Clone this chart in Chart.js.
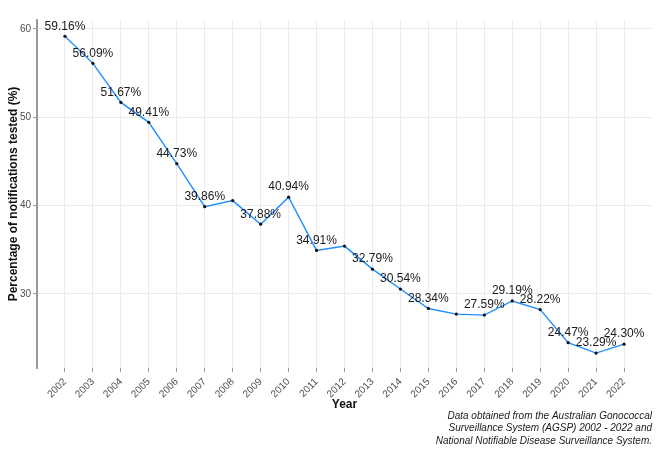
<!DOCTYPE html>
<html>
<head>
<meta charset="utf-8">
<script src="https://cdn.jsdelivr.net/npm/chart.js@4"></script>
<style>
  body { margin: 0; background: #fff; }
  #wrap { width: 661px; height: 450px; }
</style>
</head>
<body>
<div id="wrap"><canvas id="chartTested" width="661" height="450"></canvas></div>
<script>
const years = [2002, 2003, 2004, 2005, 2006, 2007, 2008, 2009, 2010, 2011, 2012,
               2013, 2014, 2015, 2016, 2017, 2018, 2019, 2020, 2021, 2022];
const tested = [59.16, 56.09, 51.67, 49.41, 44.73, 39.86, 40.55, 37.88, 40.94, 34.91, 35.4,
                32.79, 30.54, 28.34, 27.7, 27.59, 29.19, 28.22, 24.47, 23.29, 24.30];
// labels that survive overlap checking in the original
const pointLabels = ["59.16%", "56.09%", "51.67%", "49.41%", "44.73%", "39.86%", null, "37.88%", "40.94%", "34.91%", null,
                     "32.79%", "30.54%", "28.34%", null, "27.59%", "29.19%", "28.22%", "24.47%", "23.29%", "24.30%"];
const yTicks = [30, 40, 50, 60];
const caption = [
    "Data obtained from the Australian Gonococcal",
    "Surveillance System (AGSP) 2002 - 2022 and",
    "National Notifiable Disease Surveillance System."
];

renderTested();

function renderTested() {
    const labelPlugin = {
        id: 'pointLabels',
        afterDatasetsDraw(chart) {
            const ctx = chart.ctx;
            const meta = chart.getDatasetMeta(0);
            ctx.save();
            ctx.font = '12px "Liberation Sans", Arial, sans-serif';
            ctx.fillStyle = '#1a1a1a';
            ctx.textAlign = 'center';
            ctx.textBaseline = 'middle';
            meta.data.forEach((pt, i) => {
                if (pointLabels[i]) ctx.fillText(pointLabels[i], pt.x, pt.y - 10);
            });
            ctx.restore();
        }
    };
    const captionPlugin = {
        id: 'caption',
        afterDraw(chart) {
            const ctx = chart.ctx;
            ctx.save();
            ctx.font = 'italic 10px "Liberation Sans", Arial, sans-serif';
            ctx.fillStyle = '#1a1a1a';
            ctx.textAlign = 'right';
            ctx.textBaseline = 'middle';
            caption.forEach((line, i) => ctx.fillText(line, 652, 416 + i * 12.5));
            ctx.restore();
        }
    };

    const data = {
        datasets: [{
            data: years.map((y, i) => ({ x: y, y: tested[i] })),
            borderColor: '#1E8FFF',
            borderWidth: 1.4,
            pointRadius: 1.6,
            pointBackgroundColor: '#111',
            pointBorderWidth: 0,
            tension: 0
        }]
    };
    const config = {
        type: 'line',
        data: data,
        options: {
            responsive: false,
            animation: false,
            layout: { padding: { top: 20, right: 9, bottom: 38, left: 0 } },
            scales: {
                x: {
                    type: 'linear',
                    min: 2001,
                    max: 2023,
                    afterBuildTicks: s => { s.ticks = years.map(v => ({ value: v })); },
                    afterFit: s => { s.height = 44; },
                    ticks: {
                        callback: v => String(v),
                        minRotation: 45,
                        maxRotation: 45,
                        autoSkip: false,
                        padding: 4,
                        color: '#4d4d4d',
                        font: { size: 10, family: '"Liberation Sans", Arial, sans-serif' }
                    },
                    grid: { color: '#ebebeb', tickColor: '#999', tickLength: 4 },
                    border: { display: false },
                    title: {
                        display: true,
                        text: 'Year',
                        color: '#111',
                        padding: { top: 0, bottom: 0 },
                        font: { size: 12, weight: 'bold', family: '"Liberation Sans", Arial, sans-serif' }
                    }
                },
                y: {
                    min: 21.6,
                    max: 61,
                    afterBuildTicks: s => { s.ticks = yTicks.map(v => ({ value: v })); },
                    afterFit: s => { s.width = 37; },
                    ticks: {
                        padding: 2,
                        color: '#4d4d4d',
                        font: { size: 10, family: '"Liberation Sans", Arial, sans-serif' }
                    },
                    grid: { color: '#ebebeb', tickColor: '#999', tickLength: 4 },
                    border: { display: true, color: '#9a9a9a', width: 2 },
                    title: {
                        display: true,
                        text: 'Percentage of notifications tested (%)',
                        color: '#111',
                        padding: { top: 6, bottom: 0 },
                        font: { size: 12, weight: 'bold', family: '"Liberation Sans", Arial, sans-serif' }
                    }
                }
            },
            plugins: {
                legend: { display: false },
                tooltip: { enabled: false }
            }
        },
        plugins: [labelPlugin, captionPlugin]
    };
    var myChart = new Chart(
        document.getElementById('chartTested'),
        config
    );
}
</script>
</body>
</html>
